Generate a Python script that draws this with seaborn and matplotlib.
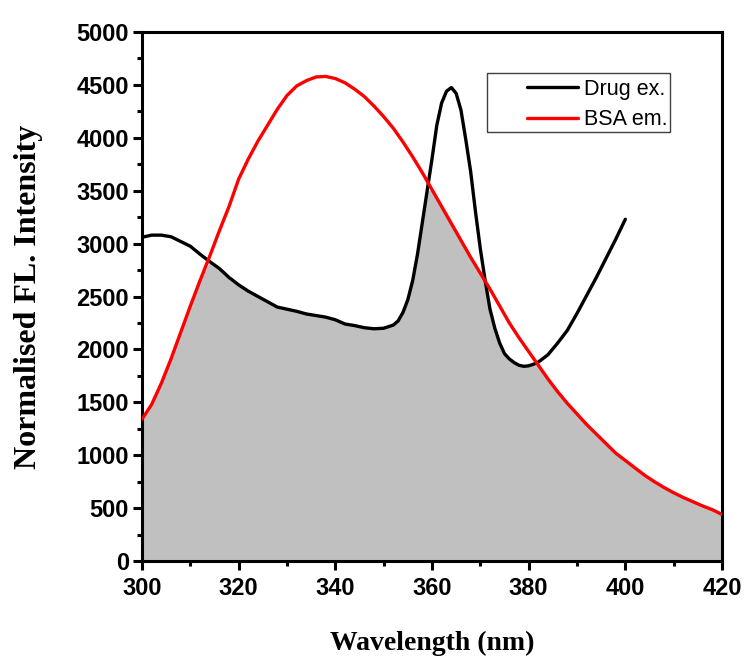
import numpy as np
import matplotlib
matplotlib.use('Agg')
import matplotlib.pyplot as plt
import seaborn as sns
from matplotlib.patches import Rectangle

# Drug excitation spectrum
drug_wl = [300, 302, 304, 306, 308, 310, 312, 314, 316, 318, 320, 322, 324, 326, 328,
           330, 332, 334, 336, 338, 340, 342, 344, 346, 348, 350, 352, 353, 354, 355,
           356, 357, 358, 359, 360, 361, 362, 363, 364, 365, 366, 367, 368, 369, 370,
           371, 372, 373, 374, 375, 376, 377, 378, 379, 380, 381, 382, 384, 386, 388,
           390, 392, 394, 396, 398, 400]
drug_int = [3060, 3080, 3080, 3065, 3020, 2975, 2900, 2830, 2765, 2680, 2610, 2550, 2500, 2450, 2400,
            2380, 2360, 2335, 2320, 2305, 2280, 2240, 2225, 2205, 2195, 2200, 2230, 2270, 2350, 2470,
            2650, 2900, 3200, 3500, 3800, 4120, 4330, 4440, 4475, 4420, 4260, 3980, 3680, 3300, 2950,
            2650, 2380, 2200, 2060, 1960, 1910, 1875, 1850, 1840, 1845, 1860, 1880, 1950, 2060, 2180,
            2340, 2510, 2680, 2860, 3040, 3230]

# BSA emission spectrum
bsa_wl = [300, 302, 304, 306, 308, 310, 312, 314, 316, 318, 320, 322, 324, 326, 328,
          330, 332, 334, 336, 338, 340, 342, 344, 346, 348, 350, 352, 354, 356, 358,
          360, 362, 364, 366, 368, 370, 372, 374, 376, 378, 380, 382, 384, 386, 388,
          390, 392, 394, 396, 398, 400, 402, 404, 406, 408, 410, 412, 414, 416, 418, 420]
bsa_int = [1340, 1480, 1680, 1910, 2160, 2410, 2650, 2880, 3120, 3350, 3610, 3800, 3970, 4120, 4270,
           4400, 4490, 4540, 4575, 4580, 4560, 4520, 4460, 4390, 4300, 4200, 4090, 3960, 3820, 3670,
           3510, 3350, 3190, 3030, 2870, 2720, 2570, 2410, 2250, 2110, 1980, 1850, 1720, 1600, 1490,
           1390, 1290, 1200, 1110, 1020, 950, 880, 810, 750, 695, 645, 600, 560, 520, 485, 440]

sns.set_style('ticks')
plt.rcParams['font.family'] = ['Liberation Sans', 'DejaVu Sans']
plt.rcParams.update({'text.color': 'black', 'axes.labelcolor': 'black',
                     'xtick.color': 'black', 'ytick.color': 'black',
                     'lines.solid_joinstyle': 'round'})

fig = plt.figure(figsize=(7.49, 6.62), dpi=100)
ax = fig.add_axes([142/749, 1-561/662, 580/749, 529/662])

# overlap region (under the lower of the two curves)
xs = np.union1d(drug_wl, bsa_wl)
d_i = np.interp(xs, drug_wl, drug_int)
b_i = np.interp(xs, bsa_wl, bsa_int)
low = np.where(xs <= max(drug_wl), np.minimum(d_i, b_i), b_i)
ax.fill_between(xs, 0, low, color='#c0c0c0', lw=0, zorder=1)

sns.lineplot(x=drug_wl, y=drug_int, color='black', lw=2.4, ax=ax, label='Drug ex.', zorder=3)
sns.lineplot(x=bsa_wl, y=bsa_int, color='#ff0000', lw=2.4, ax=ax, label='BSA em.', zorder=3)

ax.set_xlim(300, 420)
ax.set_ylim(0, 5000)
ax.set_xticks(np.arange(300, 421, 20))
ax.set_xticks(np.arange(300, 421, 10), minor=True)
ax.set_yticks(np.arange(0, 5001, 500))
ax.set_yticks(np.arange(0, 5001, 250), minor=True)

for s in ax.spines.values():
    s.set_linewidth(2.2)
    s.set_color('black')
ax.tick_params(which='major', length=6.5, width=2.2, direction='out', pad=3)
ax.tick_params(axis='x', which='major', pad=5)
ax.tick_params(which='minor', length=3.5, width=2.2, direction='out')
ax.tick_params(axis='y', which='both', right=False)
ax.tick_params(axis='x', which='both', top=False)
for lab in ax.get_xticklabels() + ax.get_yticklabels():
    lab.set_fontsize(17)
    lab.set_fontweight('bold')

ax.set_xlabel('Wavelength (nm)', fontsize=20, fontweight='bold',
              family=['Liberation Serif', 'DejaVu Serif'], labelpad=22)
ax.set_ylabel('Normalised FL. Intensity', fontsize=23, fontweight='bold',
              family=['Liberation Serif', 'DejaVu Serif'], labelpad=24)

# legend frame drawn like the original box
ax.add_patch(Rectangle((0.595, 0.811), 0.315, 0.1115, transform=ax.transAxes,
                       fill=False, edgecolor='#404040', lw=1.0, zorder=4))
ax.legend(loc='upper left', bbox_to_anchor=(0.664, 0.912), frameon=False,
          fontsize=15.5, handlelength=2.35, handletextpad=0.3, borderpad=0,
          borderaxespad=0, labelspacing=0.45)

fig.savefig('out.png', dpi=100)
